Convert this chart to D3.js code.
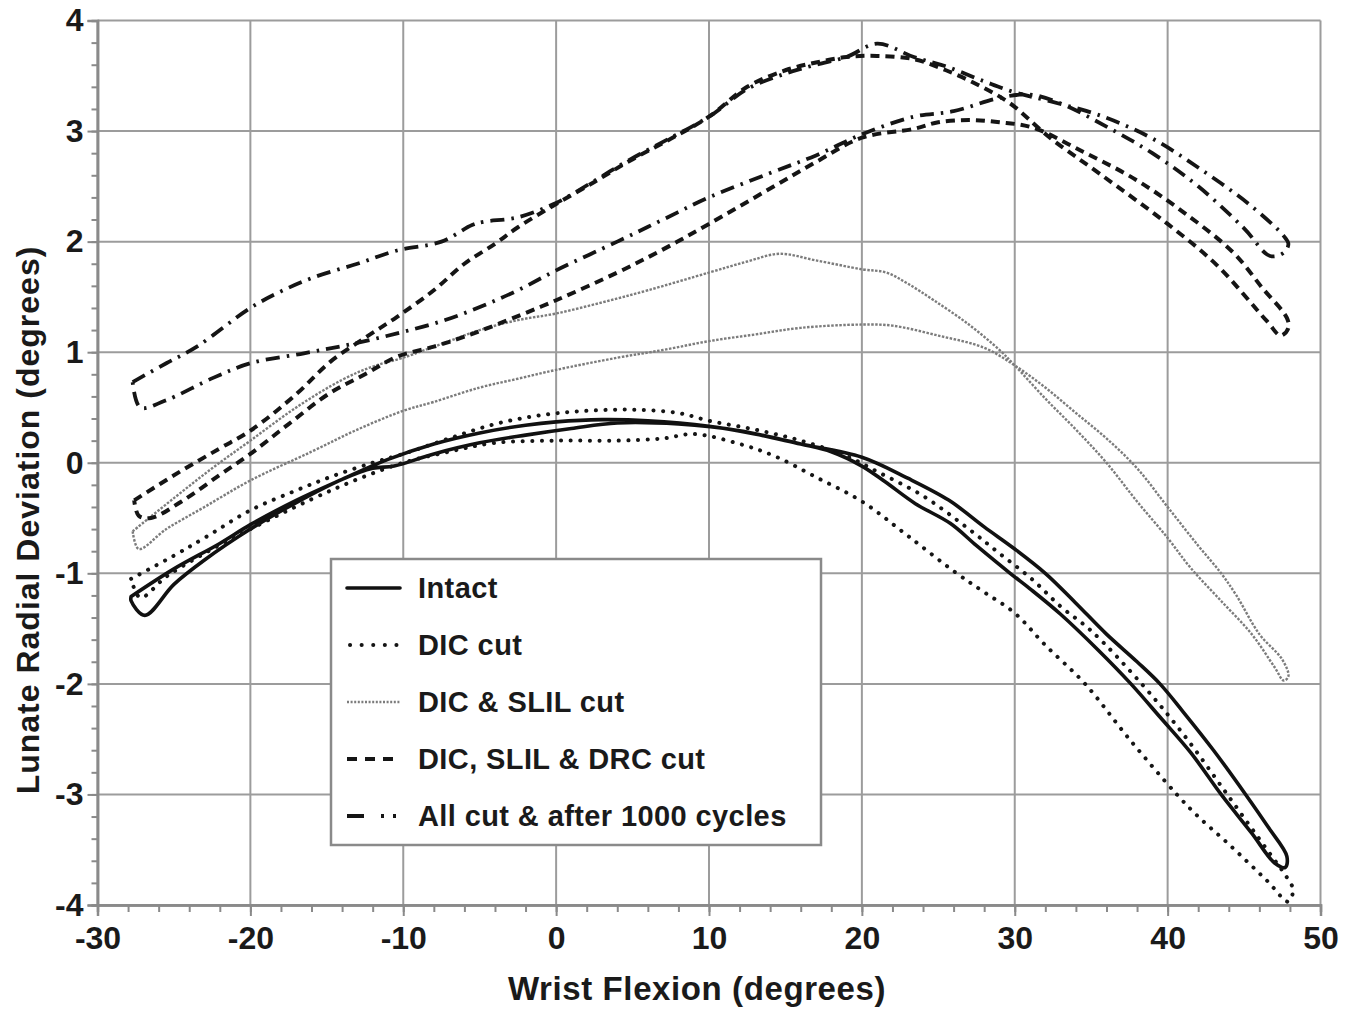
<!DOCTYPE html>
<html>
<head>
<meta charset="utf-8">
<script src="https://cdn.jsdelivr.net/npm/d3@7"></script>
<style>
  body { margin: 0; background: #fff; }
  svg text { font-family: "Liberation Sans", Arial, Helvetica, sans-serif; font-weight: bold; fill: #1a1a1a; }
</style>
</head>
<body>
<div id="chart"></div>
<script>
// axis ticks
const xTicks = [-30, -20, -10, 0, 10, 20, 30, 40, 50]
const yTicks = [-4, -3, -2, -1, 0, 1, 2, 3, 4]

// legend labels, in drawing order
const seriesNames = ["Intact", "DIC cut", "DIC & SLIL cut", "DIC, SLIL & DRC cut", "All cut & after 1000 cycles"]

// each series is a hysteresis loop: out along one branch, back along the other
const intact = [
  [-27.8,-1.21],[-25,-0.96],[-22,-0.73],[-20,-0.56],[-17,-0.34],[-14,-0.15],[-11,0.03],[-8,0.17],[-5,0.27],
  [-2,0.34],[0,0.37],[3,0.39],[6,0.38],[10,0.33],[13,0.26],[16,0.17],[20,0.05],[23,-0.14],[25.7,-0.34],
  [28,-0.58],[30,-0.78],[32,-1.0],[34,-1.27],[36,-1.55],[38,-1.8],[39.5,-2.0],[41,-2.25],[43,-2.6],
  [45.1,-3.0],[46.6,-3.3],[47.8,-3.56],[47.7,-3.66],[47.0,-3.62],[45.5,-3.35],[43.5,-3.0],[41.5,-2.62],
  [39.5,-2.3],[37.6,-2.0],[35.5,-1.7],[33,-1.37],[31,-1.14],[29.7,-1.0],[27.5,-0.75],[25.8,-0.55],
  [23.5,-0.37],[21.5,-0.17],[20,-0.03],[18,0.1],[16,0.17],[12,0.29],[8,0.35],[4,0.36],[1,0.31],
  [-2,0.25],[-5,0.18],[-8,0.08],[-10.6,-0.03],[-12,-0.05],[-14,-0.15],[-17,-0.36],[-20,-0.6],
  [-23,-0.88],[-25,-1.1],[-26.9,-1.38],[-27.8,-1.25],[-27.8,-1.21]
]

const dicCut = [
  [-27.8,-1.05],[-25,-0.84],[-23,-0.68],[-20,-0.43],[-17,-0.25],[-14.6,-0.12],[-12,0.0],[-10,0.08],
  [-7,0.22],[-4,0.35],[-1,0.43],[2,0.47],[5,0.48],[8,0.45],[10,0.38],[13,0.3],[16,0.2],[19,0.06],
  [21,-0.08],[24,-0.3],[27,-0.6],[29,-0.82],[31.1,-1.05],[33,-1.3],[35,-1.52],[38.3,-2.0],[41,-2.45],
  [43.9,-3.0],[46.5,-3.5],[47.8,-3.75],[48.2,-3.86],[47.9,-3.97],[46.5,-3.78],[44,-3.45],[42,-3.2],
  [40.6,-3.0],[37.5,-2.5],[34.6,-2.0],[32,-1.65],[30,-1.36],[28,-1.17],[26.2,-1.0],[23,-0.66],
  [20,-0.35],[17,-0.13],[14.3,0.06],[12,0.17],[9,0.26],[7,0.22],[4,0.2],[0,0.2],[-4,0.18],[-7,0.1],
  [-10,0.0],[-13,-0.15],[-16,-0.33],[-20,-0.6],[-23,-0.82],[-25.5,-1.03],[-27.2,-1.22],[-27.8,-1.05]
]

const dicSlilCut = [
  [-27.7,-0.62],[-25,-0.32],[-22.5,-0.05],[-20,0.2],[-17,0.5],[-14,0.75],[-12,0.87],[-10,0.95],
  [-7,1.1],[-5,1.2],[-2.5,1.29],[0,1.35],[3,1.45],[6,1.56],[10,1.72],[12.5,1.82],[14.6,1.89],
  [17,1.83],[20,1.75],[21.6,1.72],[23,1.62],[24.7,1.47],[27,1.25],[29,1.02],[30,0.88],[32,0.58],
  [34,0.3],[36,0.0],[38,-0.35],[40,-0.68],[41.5,-0.95],[43.5,-1.25],[45.5,-1.55],[47,-1.85],
  [47.6,-1.97],[47.9,-1.93],[47.5,-1.78],[46,-1.55],[44.5,-1.2],[43.5,-1.0],[42,-0.75],[40,-0.4],
  [38,-0.05],[36,0.22],[34,0.45],[32,0.68],[30,0.88],[28,1.04],[25,1.15],[22,1.24],[20,1.25],
  [16,1.22],[13,1.16],[10,1.1],[7,1.02],[4,0.95],[0,0.84],[-2.5,0.76],[-5,0.68],[-8,0.55],
  [-10,0.47],[-13,0.3],[-16,0.1],[-20,-0.16],[-23,-0.4],[-25.5,-0.6],[-27.3,-0.78],[-27.7,-0.62]
]

const drcCut = [
  [-27.6,-0.34],[-24.6,-0.08],[-22,0.13],[-20,0.29],[-17,0.62],[-14.8,0.91],[-12.5,1.13],[-10.4,1.32],
  [-8,1.56],[-6,1.8],[-4,1.98],[-2.5,2.13],[0,2.34],[2.5,2.54],[4.8,2.73],[7.5,2.93],[10,3.13],
  [12.5,3.4],[15,3.55],[17,3.62],[19,3.67],[21,3.68],[23.4,3.65],[25.5,3.55],[27.7,3.41],[29.7,3.25],
  [32.3,2.94],[35.6,2.61],[40,2.16],[43.2,1.79],[46.5,1.28],[47.4,1.15],[47.9,1.22],[47.8,1.31],
  [46.2,1.58],[44.3,1.9],[41,2.27],[37.8,2.57],[34.5,2.81],[31.2,3.03],[29,3.08],[27,3.1],[25,3.08],
  [23.4,3.02],[20,2.94],[17,2.72],[14,2.48],[10,2.16],[7,1.93],[4,1.72],[0,1.47],[-3.7,1.26],
  [-6,1.14],[-8,1.05],[-10.4,0.96],[-12.5,0.8],[-14.8,0.63],[-17.5,0.35],[-20,0.08],[-22,-0.11],
  [-24.5,-0.35],[-26.5,-0.5],[-27.3,-0.48],[-27.6,-0.34]
]

const allCut = [
  [-27.7,0.73],[-25.5,0.9],[-23.5,1.05],[-20,1.4],[-18,1.55],[-15.8,1.68],[-13,1.8],[-10.4,1.92],
  [-7.5,2.0],[-5.5,2.15],[-4.7,2.18],[-2.5,2.22],[0,2.35],[2.5,2.55],[4.8,2.74],[7.5,2.94],[10,3.13],
  [12.5,3.38],[15,3.52],[17,3.6],[19,3.67],[21,3.79],[23.4,3.67],[25.6,3.58],[28,3.45],[30,3.35],
  [32.3,3.27],[35.6,3.14],[38.9,2.94],[42.1,2.66],[45.4,2.33],[47.6,2.05],[47.9,1.98],[47.6,1.9],
  [46.7,1.87],[45,2.12],[42,2.5],[39,2.8],[36,3.04],[33,3.25],[31,3.33],[29,3.3],[26,3.18],
  [23.4,3.13],[20,2.97],[17,2.78],[14,2.62],[10,2.4],[7,2.2],[4,2.0],[0,1.74],[-2.5,1.56],
  [-4.95,1.41],[-7.5,1.28],[-10.4,1.17],[-13.5,1.07],[-16.5,0.99],[-20,0.9],[-22.4,0.77],
  [-25.6,0.56],[-27.2,0.5],[-27.7,0.73]
]

const allSeries = [intact, dicCut, dicSlilCut, drcCut, allCut]

const w = 1360,
      h = 1009,
      margin = {top: 20.5, right: 39.5, bottom: 104, left: 97.5},
      x = d3.scaleLinear().domain([-30, 50]).range([margin.left, w - margin.right]),
      y = d3.scaleLinear().domain([-4, 4]).range([h - margin.bottom, margin.top])

// one style per series, same order as seriesNames
const styles = [
  {stroke: "#111", width: 3.6, dash: null, cap: "round"},
  {stroke: "#151515", width: 4, dash: "0.1 9.5", cap: "round"},
  {stroke: "#7c7c7c", width: 2.4, dash: "2.5 1.5", cap: "butt"},
  {stroke: "#151515", width: 4, dash: "9 6", cap: "butt"},
  {stroke: "#151515", width: 3.8, dash: "14 7 2.5 7", cap: "butt"}
]

// plain hyphen for negatives, as in the original figure
const fmt = d => String(d)

const svg = d3.select("#chart").append("svg")
  .attr("width", w)
  .attr("height", h)

// grid
const grid = svg.append("g").attr("stroke", "#9c9c9c").attr("stroke-width", 2)
grid.selectAll(".gx").data(xTicks).enter().append("line")
  .attr("x1", d => x(d)).attr("x2", d => x(d))
  .attr("y1", y(-4)).attr("y2", y(4))
grid.selectAll(".gy").data(yTicks).enter().append("line")
  .attr("x1", x(-30)).attr("x2", x(50))
  .attr("y1", d => y(d)).attr("y2", d => y(d))

// axes (minor ticks first, then major with labels)
const xMinor = d3.range(-30, 51, 2),
      yMinor = d3.range(-4, 4.01, 0.2)

svg.append("g")
  .attr("class", "axis")
  .attr("transform", `translate(0, ${y(-4)})`)
  .call(d3.axisBottom(x).tickValues(xMinor).tickSize(7).tickFormat(""))
svg.append("g")
  .attr("class", "axis")
  .attr("transform", `translate(0, ${y(-4)})`)
  .call(d3.axisBottom(x).tickValues(xTicks).tickSize(11).tickPadding(10).tickFormat(fmt))

svg.append("g")
  .attr("class", "axis")
  .attr("transform", `translate(${x(-30)}, 0)`)
  .call(d3.axisLeft(y).tickValues(yMinor).tickSize(6).tickFormat(""))
svg.append("g")
  .attr("class", "axis")
  .attr("transform", `translate(${x(-30)}, 0)`)
  .call(d3.axisLeft(y).tickValues(yTicks).tickSize(10).tickPadding(4).tickFormat(fmt))

svg.selectAll(".axis path").attr("stroke", "#8a8a8a").attr("stroke-width", 2.5)
svg.selectAll(".axis line").attr("stroke", "#8a8a8a").attr("stroke-width", 2)
svg.selectAll(".axis text")
  .style("font-size", "32px")
  .style("font-family", "'Liberation Sans', Arial, sans-serif")
  .style("font-weight", "bold")
  .attr("fill", "#1a1a1a")

// axis titles
svg.append("text")
  .attr("x", 697)
  .attr("y", 1000)
  .attr("text-anchor", "middle")
  .style("font-size", "33px")
  .style("letter-spacing", "0.6px")
  .text("Wrist Flexion (degrees)")

svg.append("text")
  .attr("transform", "translate(39, 520) rotate(-90)")
  .attr("text-anchor", "middle")
  .style("font-size", "32px")
  .style("letter-spacing", "1px")
  .text("Lunate Radial Deviation (degrees)")

// curves
const line = d3.line()
  .x(d => x(d[0]))
  .y(d => y(d[1]))
  .curve(d3.curveCatmullRom.alpha(0.5))

const curves = svg.append("g")
allSeries.forEach((s, i) => {
  curves.append("path")
    .datum(s)
    .attr("fill", "none")
    .attr("stroke", styles[i].stroke)
    .attr("stroke-width", styles[i].width)
    .attr("stroke-dasharray", styles[i].dash)
    .attr("stroke-linecap", styles[i].cap)
    .attr("stroke-linejoin", "round")
    .attr("d", line)
})

// legend
const legend = svg.append("g").attr("transform", "translate(331, 559)")
legend.append("rect")
  .attr("width", 490)
  .attr("height", 286)
  .attr("fill", "#fff")
  .attr("stroke", "#8a8a8a")
  .attr("stroke-width", 2.5)

const legendDash = [null, "0.1 11.5", "2 1.6", "10 8", "17 17 3 9 3 60"]
const legendCap = ["round", "round", "butt", "butt", "butt"]

seriesNames.forEach((name, i) => {
  const row = legend.append("g").attr("transform", `translate(0, ${29 + i * 57})`)
  row.append("line")
    .attr("x1", i === 1 ? 19 : 16)
    .attr("x2", 69)
    .attr("stroke", styles[i].stroke)
    .attr("stroke-width", styles[i].width)
    .attr("stroke-dasharray", legendDash[i])
    .attr("stroke-linecap", legendCap[i])
  row.append("text")
    .attr("x", 87)
    .attr("dy", "0.36em")
    .style("font-size", "29px")
    .style("letter-spacing", "0.4px")
    .text(name)
})
</script>
</body>
</html>
